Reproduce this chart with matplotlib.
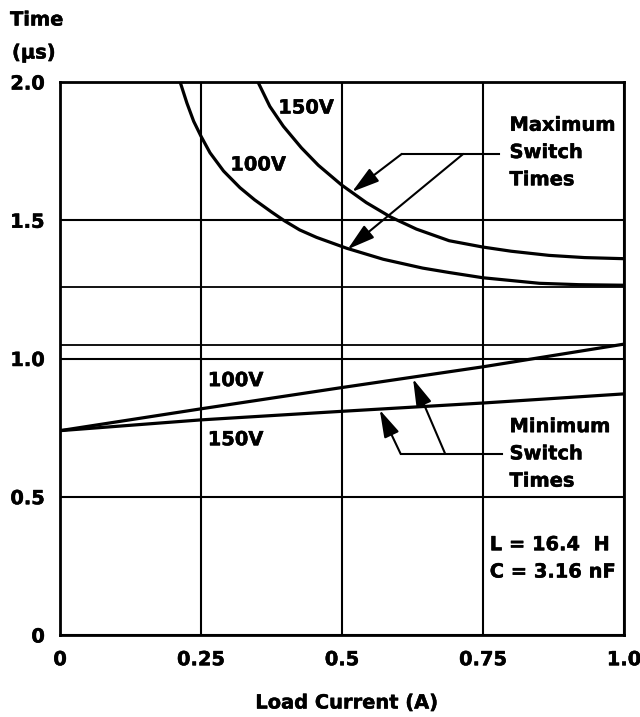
import matplotlib.pyplot as plt
import matplotlib.patheffects as pe
from matplotlib.patches import ArrowStyle

plt.rcParams['font.family'] = ['DejaVu Sans']
plt.rcParams['font.weight'] = 'bold'

# maximum switch times
i_max_100 = [0.213, 0.225, 0.237, 0.25, 0.266, 0.290, 0.319, 0.345, 0.375, 0.398, 0.425,
             0.455, 0.508, 0.573, 0.643, 0.69, 0.75, 0.85, 0.92, 1.0]
t_max_100 = [2.00, 1.924, 1.858, 1.804, 1.744, 1.678, 1.618, 1.574, 1.530, 1.498, 1.465,
             1.438, 1.399, 1.359, 1.327, 1.311, 1.292, 1.272, 1.267, 1.265]
i_max_150 = [0.351, 0.372, 0.396, 0.428, 0.458, 0.499, 0.543, 0.586, 0.632, 0.690, 0.75,
             0.80, 0.867, 0.93, 1.0]
t_max_150 = [2.00, 1.912, 1.840, 1.762, 1.699, 1.628, 1.564, 1.512, 1.468, 1.426, 1.403,
             1.388, 1.373, 1.365, 1.361]

# minimum switch times
i_min = [0.0, 0.25, 0.5, 0.75, 1.0]
t_min_100 = [0.739, 0.818, 0.895, 0.970, 1.052]
t_min_150 = [0.739, 0.778, 0.809, 0.839, 0.872]

x_ticks = [0, 0.25, 0.5, 0.75, 1.0]
x_labels = ["0", "0.25", "0.5", "0.75", "1.0"]
y_ticks = [0, 0.5, 1.0, 1.5, 2.0]
y_labels = ["0", "0.5", "1.0", "1.5", "2.0"]
extra_lines = [1.05, 1.26]

heavy = [pe.withStroke(linewidth=0.35, foreground='black')]

fig = plt.figure(figsize=(6.4, 7.17), dpi=100)
ax = fig.add_axes([0.09375, 0.1144, 0.88125, 0.7712])
ax.set_xlim(0, 1.0)
ax.set_ylim(0, 2.0)

ax.set_xticks(x_ticks)
ax.set_xticklabels(x_labels)
ax.set_yticks(y_ticks)
ax.set_yticklabels(y_labels)
ax.tick_params(length=0, labelsize=14, pad=11)
for lab in ax.get_xticklabels() + ax.get_yticklabels():
    lab.set_fontweight('bold')
    lab.set_path_effects(heavy)
ax.grid(True, color='black', linewidth=1.5)
for y in extra_lines:
    ax.axhline(y, color='black', linewidth=1.3)
for s in ax.spines.values():
    s.set_linewidth(2)

ax.plot(i_max_100, t_max_100, color='black', lw=2.3, solid_joinstyle='round')
ax.plot(i_max_150, t_max_150, color='black', lw=2.3, solid_joinstyle='round')
ax.plot(i_min, t_min_100, color='black', lw=2.3)
ax.plot(i_min, t_min_150, color='black', lw=2.3)

fs = 14
tkw = dict(fontsize=fs, fontweight='bold', path_effects=heavy)
ax.text(0.387, 1.906, "150V", va='center', **tkw)
ax.text(0.302, 1.70, "100V", va='center', **tkw)
ax.text(0.262, 0.920, "100V", va='center', **tkw)
ax.text(0.262, 0.706, "150V", va='center', **tkw)

ax.text(0.797, 1.745, "Maximum\nSwitch\nTimes", va='center', ha='left', linespacing=1.55, **tkw)
ax.text(0.797, 0.655, "Minimum\nSwitch\nTimes", va='center', ha='left', linespacing=1.55, **tkw)
ax.text(0.762, 0.277, "L = 16.4  H\nC = 3.16 nF", va='center', ha='left', linespacing=1.55, **tkw)

style = ArrowStyle("-|>", head_length=1.2, head_width=0.35)
akw = dict(arrowstyle=style, mutation_scale=14, color='black', lw=1.5, shrinkA=0, shrinkB=0)

# maximum leaders
ax.plot([0.606, 0.778], [1.740, 1.740], color='black', lw=1.5)
ax.annotate("", xy=(0.518, 1.603), xytext=(0.606, 1.740), arrowprops=akw)
ax.annotate("", xy=(0.510, 1.395), xytext=(0.715, 1.740), arrowprops=akw)

# minimum leaders
ax.plot([0.604, 0.783], [0.655, 0.655], color='black', lw=1.5)
ax.annotate("", xy=(0.567, 0.814), xytext=(0.604, 0.655), arrowprops=akw)
ax.annotate("", xy=(0.626, 0.926), xytext=(0.683, 0.655), arrowprops=akw)

fig.text(10 / 640, 1 - 20 / 717, "Time", va='center', ha='left', **tkw)
fig.text(12 / 640, 1 - 53 / 717, "(\u00b5s)", va='center', ha='left', **tkw)
fig.text(347 / 640, 1 - 703 / 717, "Load Current (A)", va='center', ha='center', **tkw)

fig.savefig("out.png", dpi=100)
